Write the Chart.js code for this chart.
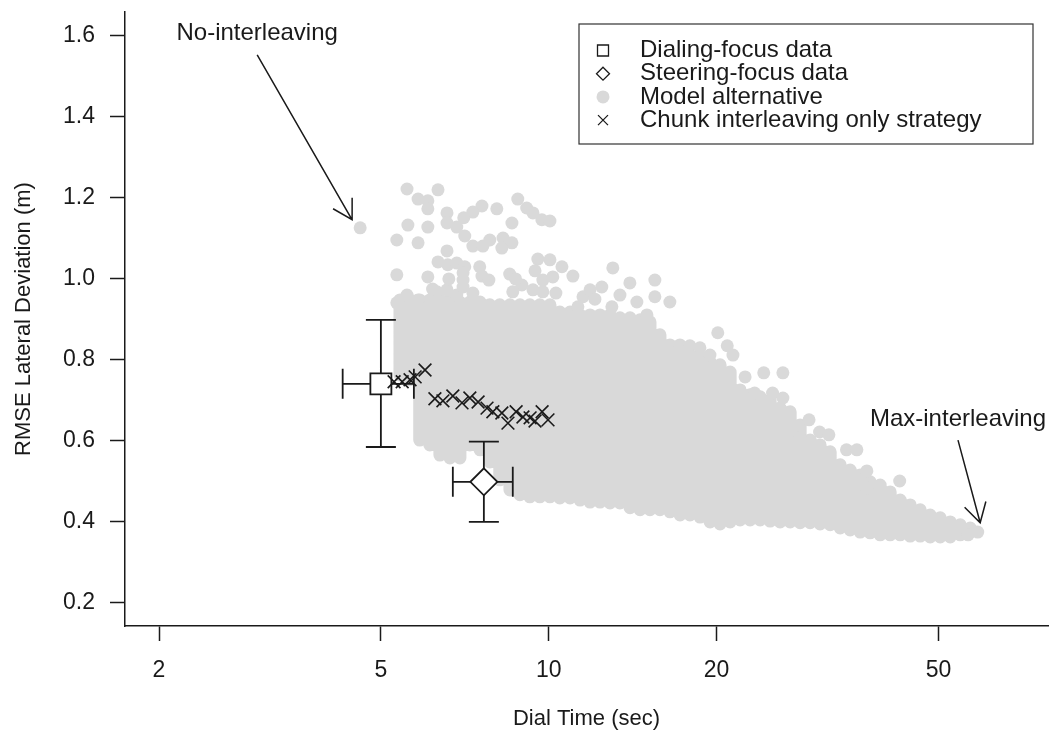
<!DOCTYPE html>
<html>
<head>
<meta charset="utf-8">
<script src="https://cdn.jsdelivr.net/npm/chart.js@4.4.0/dist/chart.umd.min.js"></script>
<style>
  html, body { margin: 0; padding: 0; background: #fff; }
  #wrap { width: 1051px; height: 743px; }
</style>
</head>
<body>
<div id="wrap"><canvas id="chart" width="1051" height="743"></canvas></div>
<script>
// axes
const xTicks = [2, 5, 10, 20, 50];
const yTicks = [0.2, 0.4, 0.6, 0.8, 1.0, 1.2, 1.4, 1.6];

// human data (mean + error bars)
const dataLabels = ['Dialing-focus data', 'Steering-focus data'];
const dataX = [5.0, 7.65];
const dataY = [0.741, 0.499];
const dataXLo = [4.27, 6.73];
const dataXHi = [5.73, 8.62];
const dataYLo = [0.585, 0.400];
const dataYHi = [0.899, 0.598];

// chunk interleaving only strategy
const chunkX = [5.28, 5.46, 5.64, 5.76, 6.00, 6.25, 6.46, 6.73, 6.99, 7.22, 7.47, 7.75, 7.94, 8.24, 8.45, 8.74, 8.99, 9.26, 9.45, 9.73, 9.97];
const chunkY = [0.746, 0.746, 0.751, 0.758, 0.775, 0.704, 0.699, 0.711, 0.694, 0.706, 0.696, 0.681, 0.672, 0.669, 0.644, 0.672, 0.659, 0.657, 0.649, 0.672, 0.652];

// model alternatives: dense part read as vertical runs of points (dial time, lowest, highest)
const cloudX = [5.41, 5.64, 5.87, 6.12, 6.38, 6.65, 6.93, 7.22, 7.53, 7.84, 8.17, 8.52, 8.88, 9.25, 9.64, 10.05,
  10.47, 10.92, 11.38, 11.86, 12.36, 12.88, 13.42, 13.99, 14.58, 15.19, 15.83, 16.50, 17.20, 17.92, 18.68, 19.47,
  20.29, 21.15, 22.04, 22.97, 23.94, 24.95, 26.00, 27.10, 28.24, 29.43, 30.67, 31.97, 33.32, 34.72, 36.19, 37.71,
  39.30, 40.96, 42.69, 44.49, 46.37, 48.32, 50.36, 52.49, 54.70, 57.01];
const cloudLow = [0.763, 0.751, 0.602, 0.590, 0.565, 0.558, 0.558, 0.590, 0.578, 0.548, 0.504, 0.479, 0.467, 0.462, 0.462, 0.462,
  0.459, 0.459, 0.454, 0.449, 0.449, 0.447, 0.447, 0.435, 0.430, 0.430, 0.430, 0.425, 0.417, 0.417, 0.412, 0.400,
  0.395, 0.400, 0.405, 0.405, 0.405, 0.402, 0.400, 0.400, 0.398, 0.398, 0.395, 0.393, 0.385, 0.380, 0.375, 0.373,
  0.368, 0.368, 0.368, 0.365, 0.365, 0.363, 0.363, 0.363, 0.368, 0.375];
const cloudHigh = [0.948, 0.948, 0.948, 0.948, 0.948, 0.948, 0.943, 0.943, 0.943, 0.936, 0.936, 0.936, 0.936, 0.936, 0.936, 0.936,
  0.918, 0.918, 0.911, 0.911, 0.911, 0.911, 0.904, 0.904, 0.899, 0.894, 0.862, 0.837, 0.820, 0.812, 0.807, 0.795,
  0.788, 0.770, 0.726, 0.714, 0.709, 0.701, 0.681, 0.672, 0.639, 0.602, 0.590, 0.573, 0.541, 0.528, 0.516, 0.499,
  0.491, 0.474, 0.454, 0.442, 0.430, 0.417, 0.410, 0.400, 0.393, 0.385];

// model alternatives: scattered single points
const dotX = [4.59, 5.57, 6.33, 5.83, 6.07, 6.07, 8.80, 9.13, 9.37, 9.72, 10.05, 7.59, 7.31, 7.04, 8.07, 6.57,
  5.59, 6.07, 6.57, 6.84, 7.07, 7.31, 7.62, 7.84, 8.28, 8.59, 8.24, 8.59, 5.34, 5.83, 6.57, 6.33,
  6.59, 6.84, 7.07, 7.02, 7.52, 7.59, 7.81, 8.51, 9.56, 10.05, 10.56, 11.05, 13.03, 13.98, 5.34, 6.07,
  7.02, 9.76, 10.17, 9.37, 8.95, 8.62, 9.76, 11.52, 11.86, 12.45, 13.42, 14.39, 12.98, 5.57, 5.34, 5.83,
  6.30, 6.57, 6.84, 15.50, 15.50, 16.49, 11.28, 15.00, 20.1, 20.9, 17.19, 17.91, 18.67, 19.46, 21.4, 22.5,
  24.3, 26.3, 23.4, 25.2, 26.3, 29.3, 30.6, 31.8, 34.2, 35.7, 42.6, 37.2, 37.2, 28.2, 58.8, 56.5,
  6.19, 6.62, 7.02, 7.31, 8.72, 9.45, 10.3, 12.1];
const dotY = [1.126, 1.222, 1.220, 1.197, 1.193, 1.173, 1.197, 1.175, 1.163, 1.146, 1.143, 1.180, 1.165, 1.151, 1.173, 1.163,
  1.133, 1.128, 1.138, 1.128, 1.106, 1.081, 1.081, 1.096, 1.101, 1.089, 1.076, 1.138, 1.096, 1.089, 1.069, 1.042,
  1.035, 1.039, 1.030, 1.015, 1.030, 1.007, 0.997, 1.012, 1.049, 1.047, 1.030, 1.007, 1.027, 0.990, 1.010, 1.005,
  0.997, 0.997, 1.005, 0.973, 0.985, 0.968, 0.968, 0.956, 0.973, 0.980, 0.960, 0.943, 0.931, 0.960, 0.941, 0.948,
  0.968, 0.973, 0.960, 0.997, 0.956, 0.943, 0.931, 0.911, 0.867, 0.835, 0.837, 0.835, 0.830, 0.812, 0.812, 0.758,
  0.768, 0.768, 0.718, 0.718, 0.706, 0.652, 0.622, 0.615, 0.578, 0.578, 0.501, 0.484, 0.526, 0.607, 0.375, 0.368,
  0.975, 1.000, 0.980, 0.965, 1.000, 1.020, 0.965, 0.950];

// annotations
const noteText = ['No-interleaving', 'Max-interleaving'];
const noteX = [3.0, 54.2];
const noteY = [1.605, 0.652];
const arrowFromX = [3.0, 54.2];
const arrowFromY = [1.553, 0.602];
const arrowToX = [4.44, 59.4];
const arrowToY = [1.146, 0.398];

const legendLabels = ['Dialing-focus data', 'Steering-focus data', 'Model alternative', 'Chunk interleaving only strategy'];

const INK = '#1a1a1a';
const GREY = '#d9d9d9';
const FONT = '"Liberation Sans", Arial, Helvetica, sans-serif';

Chart.defaults.font.family = FONT;
Chart.defaults.color = INK;

const cloudData = [];
cloudX.forEach((x, i) => {
  cloudData.push({ x: x, y: cloudLow[i] });
  cloudData.push({ x: x, y: cloudHigh[i] });
  cloudData.push({ x: x, y: null });
});

function drawMarker(ctx, kind, x, y, s) {
  ctx.beginPath();
  if (kind === 'square') {
    ctx.rect(x - s, y - s, 2 * s, 2 * s);
  } else if (kind === 'diamond') {
    ctx.moveTo(x, y - s);
    ctx.lineTo(x + s, y);
    ctx.lineTo(x, y + s);
    ctx.lineTo(x - s, y);
    ctx.closePath();
  } else if (kind === 'circle') {
    ctx.arc(x, y, s, 0, Math.PI * 2);
    ctx.fillStyle = GREY;
    ctx.fill();
    return;
  } else if (kind === 'cross') {
    ctx.moveTo(x - s, y - s); ctx.lineTo(x + s, y + s);
    ctx.moveTo(x + s, y - s); ctx.lineTo(x - s, y + s);
    ctx.stroke();
    return;
  }
  ctx.fillStyle = '#fff';
  ctx.fill();
  ctx.stroke();
}

// error bars + data markers, drawn right after the grey model points
const errorBars = {
  id: 'errorBars',
  afterDatasetDraw(chart, args) {
    if (args.index !== 1) return;
    const { ctx, scales: { x, y } } = chart;
    ctx.save();
    ctx.strokeStyle = INK;
    ctx.lineWidth = 1.8;
    const cap = 15;
    dataX.forEach((dx, i) => {
      const px = x.getPixelForValue(dx), py = y.getPixelForValue(dataY[i]);
      const x0 = x.getPixelForValue(dataXLo[i]), x1 = x.getPixelForValue(dataXHi[i]);
      const y0 = y.getPixelForValue(dataYLo[i]), y1 = y.getPixelForValue(dataYHi[i]);
      ctx.beginPath();
      ctx.moveTo(px, y0); ctx.lineTo(px, y1);
      ctx.moveTo(px - cap, y0); ctx.lineTo(px + cap, y0);
      ctx.moveTo(px - cap, y1); ctx.lineTo(px + cap, y1);
      ctx.moveTo(x0, py); ctx.lineTo(x1, py);
      ctx.moveTo(x0, py - cap); ctx.lineTo(x0, py + cap);
      ctx.moveTo(x1, py - cap); ctx.lineTo(x1, py + cap);
      ctx.stroke();
      drawMarker(ctx, i === 0 ? 'square' : 'diamond', px, py, i === 0 ? 10.5 : 13.5);
    });
    ctx.restore();
  }
};

const notes = {
  id: 'notes',
  afterDraw(chart) {
    const { ctx, scales: { x, y } } = chart;
    ctx.save();
    ctx.fillStyle = INK;
    ctx.strokeStyle = INK;
    ctx.lineWidth = 1.5;
    ctx.font = '24px ' + FONT;
    ctx.textAlign = 'center';
    ctx.textBaseline = 'middle';
    noteText.forEach((t, i) => {
      ctx.fillText(t, x.getPixelForValue(noteX[i]), y.getPixelForValue(noteY[i]));
      const ax = x.getPixelForValue(arrowFromX[i]), ay = y.getPixelForValue(arrowFromY[i]);
      const bx = x.getPixelForValue(arrowToX[i]), by = y.getPixelForValue(arrowToY[i]);
      const ang = Math.atan2(by - ay, bx - ax);
      const head = 22;
      ctx.beginPath();
      ctx.moveTo(ax, ay); ctx.lineTo(bx, by);
      ctx.moveTo(bx - head * Math.cos(ang - Math.PI / 6), by - head * Math.sin(ang - Math.PI / 6));
      ctx.lineTo(bx, by);
      ctx.lineTo(bx - head * Math.cos(ang + Math.PI / 6), by - head * Math.sin(ang + Math.PI / 6));
      ctx.stroke();
    });

    // legend box, top right inside the plot
    const area = chart.chartArea;
    const w = 454, h = 120;
    const left = area.right - 15 - w, top = area.top + 12;
    ctx.lineWidth = 1.2;
    ctx.strokeStyle = '#333';
    ctx.strokeRect(left, top, w, h);
    ctx.textAlign = 'left';
    const kinds = ['square', 'diamond', 'circle', 'cross'];
    const sizes = [5.5, 6.5, 6.5, 5];
    legendLabels.forEach((t, i) => {
      const ly = top + 26.5 + i * 23.2;
      ctx.strokeStyle = INK;
      ctx.lineWidth = 1.3;
      drawMarker(ctx, kinds[i], left + 24, ly, sizes[i]);
      ctx.fillStyle = INK;
      ctx.fillText(t, left + 61, ly);
    });
    ctx.restore();
  }
};

new Chart(document.getElementById('chart'), {
  type: 'scatter',
  data: {
    datasets: [
      {
        label: 'Chunk interleaving only strategy',
        data: chunkX.map((x, i) => ({ x: x, y: chunkY[i] })),
        pointStyle: 'crossRot',
        pointRadius: 9,
        borderColor: INK,
        borderWidth: 1.6,
        backgroundColor: INK
      },
      {
        label: 'Model alternative',
        data: dotX.map((x, i) => ({ x: x, y: dotY[i] })),
        pointRadius: 6.5,
        backgroundColor: GREY,
        borderWidth: 0
      },
      {
        label: 'Model alternative (dense)',
        data: cloudData,
        showLine: true,
        spanGaps: false,
        pointRadius: 0,
        borderColor: GREY,
        borderWidth: 13,
        borderCapStyle: 'round',
        tension: 0
      }
    ]
  },
  options: {
    responsive: false,
    animation: false,
    layout: { autoPadding: false, padding: { top: 12, right: 3, left: 0, bottom: 0 } },
    plugins: { legend: { display: false }, tooltip: { enabled: false } },
    scales: {
      x: {
        type: 'logarithmic',
        min: 1.738,
        max: 78.6,
        afterBuildTicks: s => { s.ticks = xTicks.map(v => ({ value: v })); },
        afterFit: s => { s.height = 117; s.paddingLeft = 0; s.paddingRight = 0; },
        ticks: { callback: v => String(v), padding: 16, color: INK, font: { size: 23 }, maxRotation: 0, autoSkip: false },
        grid: { display: true, drawOnChartArea: false, drawTicks: true, tickLength: 15, tickColor: INK, tickWidth: 1.5, color: INK },
        border: { display: true, color: INK, width: 1.5 },
        title: { display: true, text: 'Dial Time (sec)', color: INK, font: { size: 22 }, padding: { top: 0, bottom: 11 } }
      },
      y: {
        type: 'linear',
        min: 0.143,
        max: 1.659,
        afterBuildTicks: s => { s.ticks = yTicks.map(v => ({ value: v })); },
        afterFit: s => { s.width = 125; s.paddingTop = 0; s.paddingBottom = 0; },
        ticks: { callback: v => v.toFixed(1), padding: 15, color: INK, font: { size: 23 } },
        grid: { display: true, drawOnChartArea: false, drawTicks: true, tickLength: 15, tickColor: INK, tickWidth: 1.5, color: INK },
        border: { display: true, color: INK, width: 1.5 },
        title: { display: true, text: 'RMSE Lateral Deviation (m)', color: INK, font: { size: 22 }, padding: { top: 11, bottom: 0 } }
      }
    }
  },
  plugins: [errorBars, notes]
});
</script>
</body>
</html>
